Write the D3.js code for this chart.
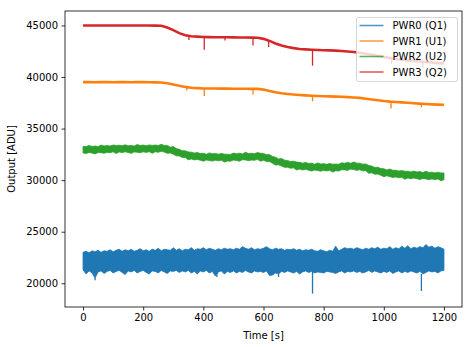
<!DOCTYPE html>
<html>
<head>
<meta charset="utf-8">
<script src="https://cdn.jsdelivr.net/npm/d3@7/dist/d3.min.js"></script>
<style>
  body { margin: 0; background: #fff; }
  text { font-family: "DejaVu Sans", sans-serif; font-size: 10px; fill: #000; }
  .axis path, .axis line { stroke: #000; stroke-width: 0.8; }
</style>
</head>
<body>
<div id="chart"></div>
<script>
const seriesNames = ['PWR0 (Q1)', 'PWR1 (U1)', 'PWR2 (U2)', 'PWR3 (Q2)']
const xTicks = [0, 200, 400, 600, 800, 1000, 1200]
const yTicks = [20000, 25000, 30000, 35000, 40000, 45000]

// sampling grids (seconds)
const time20 = d3.range(0, 1201, 20)
const time10 = d3.range(0, 1201, 10)

// PWR3 (Q2), centre of the trace, every 20 s
const pwr3 = [45000,44990,45000,44990,45000,44990,45000,44990,44990,45000,44990,44990,44980,44970,
  44800,44550,44250,44050,43950,43920,43880,43870,43860,43850,43850,43840,43830,43830,43820,43800,
  43700,43500,43250,43050,42900,42800,42720,42680,42650,42620,42600,42580,42560,42520,42480,42420,
  42350,42250,42150,42050,41950,41850,41750,41680,41600,41550,41500,41450,41400,41350,41320]

// PWR1 (U1), centre of the trace, every 20 s
const pwr1 = [39500,39500,39490,39500,39500,39490,39500,39500,39490,39500,39500,39490,39480,39470,
  39400,39280,39150,39040,38960,38920,38890,38880,38880,38870,38870,38860,38860,38860,38850,38850,
  38780,38640,38520,38430,38360,38300,38260,38220,38190,38160,38140,38120,38100,38080,38050,38020,
  37980,37900,37820,37740,37670,37610,37570,37540,37500,37460,37420,37380,37350,37320,37300]

// PWR2 (U2), upper / lower edge of the noise band, every 10 s
const pwr2Hi = [33280,33250,33360,33270,33310,33240,33400,33310,33350,33310,
  33400,33360,33390,33330,33420,33330,33370,33300,33450,33360,
  33400,33340,33410,33370,33400,33360,33470,33370,33370,33200,
  33250,33060,32990,32850,32840,32740,32710,32620,32680,32580,
  32610,32510,32640,32550,32590,32520,32590,32520,32510,32490,
  32620,32550,32610,32540,32700,32590,32600,32570,32670,32610,
  32580,32460,32480,32290,32230,32050,32100,31940,31900,31800,
  31840,31750,31730,31650,31720,31620,31650,31540,31670,31570,
  31600,31540,31610,31550,31560,31540,31680,31640,31720,31630,
  31760,31650,31650,31550,31570,31430,31360,31230,31260,31120,
  31110,30980,31080,30960,30960,30880,30930,30860,30860,30790,
  30880,30790,30830,30730,30860,30750,30770,30700,30770,30700,30700]
const pwr2Lo = [32630,32590,32690,32620,32540,32680,32660,32610,32700,32660,
  32750,32590,32740,32670,32750,32680,32600,32740,32710,32660,
  32750,32690,32760,32600,32750,32700,32800,32720,32600,32640,
  32510,32360,32340,32200,32190,31970,32060,31960,32010,31930,
  31840,31950,31900,31850,31940,31870,31940,31750,31860,31830,
  31950,31900,31840,31980,31960,31890,31950,31920,32020,31840,
  31930,31800,31810,31640,31460,31490,31360,31240,31250,31150,
  31190,30980,31080,30990,31050,30970,30880,30980,30930,30870,
  30950,30890,30960,30780,30910,30880,31010,30990,30950,31070,
  31020,30950,31000,30900,30920,30660,30710,30570,30590,30470,
  30340,30420,30340,30260,30310,30230,30280,30090,30210,30130,
  30210,30140,30060,30170,30120,30050,30120,30050,30120,29930,30050]

// PWR0 (Q1), upper / lower edge of the noise band, every 10 s
const pwr0Hi = [23000,23100,22950,23150,23050,23200,23000,23150,23100,23250,
  23050,23200,23300,23100,23250,23150,23300,23100,23200,23350,
  23150,23250,23100,23300,23200,23400,23150,23300,23250,23200,
  23450,23200,23350,23150,23300,23250,23450,23200,23350,23300,
  23450,23250,23400,23300,23200,23350,23250,23400,23300,23350,
  23250,23400,23300,23550,23400,23300,23450,23250,23350,23300,
  23400,23550,23350,23250,23400,23300,23350,23200,23300,23250,
  23350,23200,23300,23150,23250,23200,23300,23150,23100,23250,
  23150,23050,23200,23100,23600,23150,23300,23450,23350,23400,
  23300,23450,23350,23250,23400,23300,23450,23350,23500,23300,
  23400,23350,23550,23300,23450,23350,23600,23400,23650,23350,
  23500,23400,23550,23450,23750,23500,23600,23400,23550,23450,23300]
const pwr0Lo = [21300,20900,21200,21000,20500,21100,21200,20950,21150,21250,
  21000,21150,21250,21050,20850,21200,21100,21250,21000,21150,
  21250,21050,20900,21200,21150,21000,21250,21100,20950,21200,
  21150,21250,21050,21200,21100,21250,21000,21150,20900,21200,
  21100,21250,21000,21150,20700,21100,21200,20900,21150,21050,
  21200,21000,21150,21050,21250,21100,21000,21200,21100,21150,
  21050,21200,20750,20800,21000,20900,21150,21050,21200,21100,
  21000,21150,20900,21100,21200,21050,21150,21000,21100,21050,
  21000,21150,21100,21050,20950,21100,21200,21000,21150,21100,
  21200,21050,21150,21000,21100,21250,21050,21200,21100,21000,
  21150,21050,21200,20950,21100,21200,21000,21150,21050,21200,
  21100,21000,21150,20900,21050,21200,21100,21150,21000,21200,21250]

// downward glitches: [time, lowest value]
const pwr0Spikes = [[40, 20300], [445, 20600], [650, 20600], [763, 19000], [1125, 19250]]
const pwr1Spikes = [[345, 38700], [403, 38150], [565, 38300], [763, 37650], [1024, 36950], [1125, 37050]]
const pwr3Spikes = [[352, 43600], [403, 42650], [472, 43550], [565, 43050], [617, 42900], [763, 41100], [1026, 41300], [1130, 40900]]

const colours = ['#1f77b4', '#ff7f0e', '#2ca02c', '#d62728']

let width = 473
let height = 347
const margin = { top: 11, right: 11, bottom: 40, left: 65 }

let svg = d3.select('#chart').append('svg')
  .attr('width', width)
  .attr('height', height)

let x = d3.scaleLinear()
  .domain([-60, 1260])
  .range([margin.left, width - margin.right])

let y = d3.scaleLinear()
  .domain([17700, 46400])
  .range([height - margin.bottom, margin.top])

let plot = svg.append('g')

const band = (lo, hi) => d3.area()
  .x((d, i) => x(d))
  .y0((d, i) => y(lo[i]))
  .y1((d, i) => y(hi[i]))

const centre = vals => d3.line()
  .x((d, i) => x(d))
  .y((d, i) => y(vals[i]))

const drawSpikes = (spikes, grid, vals, colour) => {
  plot.selectAll(null)
    .data(spikes)
    .enter()
    .append('line')
    .attr('x1', d => x(d[0]))
    .attr('x2', d => x(d[0]))
    .attr('y1', d => y(vals[Math.round(d[0] / (grid[1] - grid[0]))]))
    .attr('y2', d => y(d[1]))
    .style('stroke', colour)
    .style('stroke-width', 1.3)
}

// PWR0
plot.append('path')
  .attr('d', band(pwr0Lo, pwr0Hi)(time10))
  .style('fill', colours[0])
  .style('stroke', colours[0])
  .style('stroke-width', 1)
  .style('stroke-opacity', 0.8)
drawSpikes(pwr0Spikes, time10, pwr0Lo, colours[0])

// PWR1
plot.append('path')
  .attr('d', centre(pwr1)(time20))
  .style('fill', 'none')
  .style('stroke', colours[1])
  .style('stroke-width', 2.6)
drawSpikes(pwr1Spikes, time20, pwr1, colours[1])

// PWR2
plot.append('path')
  .attr('d', band(pwr2Lo, pwr2Hi)(time10))
  .style('fill', colours[2])
  .style('stroke', colours[2])
  .style('stroke-width', 1)
  .style('stroke-opacity', 0.8)

// PWR3
plot.append('path')
  .attr('d', centre(pwr3)(time20))
  .style('fill', 'none')
  .style('stroke', colours[3])
  .style('stroke-width', 2.6)
drawSpikes(pwr3Spikes, time20, pwr3, colours[3])

// frame
svg.append('rect')
  .attr('x', margin.left)
  .attr('y', margin.top)
  .attr('width', width - margin.left - margin.right)
  .attr('height', height - margin.top - margin.bottom)
  .style('fill', 'none')
  .style('stroke', '#000')
  .style('stroke-width', 0.8)

let xAxis = d3.axisBottom(x)
  .tickValues(xTicks)
  .tickSize(3.5)
  .tickPadding(3.5)
  .tickFormat(d3.format('d'))

let yAxis = d3.axisLeft(y)
  .tickValues(yTicks)
  .tickSize(3.5)
  .tickPadding(3.5)
  .tickFormat(d3.format('d'))

svg.append('g')
  .attr('class', 'axis')
  .attr('transform', `translate(0, ${height - margin.bottom})`)
  .call(xAxis)
  .call(g => g.select('.domain').remove())
  .selectAll('text').style('font-family', null).style('font-size', null)

svg.append('g')
  .attr('class', 'axis')
  .attr('transform', `translate(${margin.left}, 0)`)
  .call(yAxis)
  .call(g => g.select('.domain').remove())
  .selectAll('text').style('font-family', null).style('font-size', null)

svg.selectAll('.axis text').attr('fill', null)

svg.append('text')
  .attr('x', (margin.left + width - margin.right) / 2)
  .attr('y', 339)
  .style('text-anchor', 'middle')
  .text('Time [s]')

svg.append('text')
  .attr('transform', `translate(15, ${(margin.top + height - margin.bottom) / 2}) rotate(-90)`)
  .style('text-anchor', 'middle')
  .text('Output [ADU]')

// legend
let legend = svg.append('g')
  .attr('transform', 'translate(356.5, 17.5)')

legend.append('rect')
  .attr('width', 101)
  .attr('height', 64)
  .attr('rx', 2)
  .style('fill', '#fff')
  .style('fill-opacity', 0.8)
  .style('stroke', '#cccccc')
  .style('stroke-width', 0.8)

let rows = legend.selectAll('g.row')
  .data(seriesNames)
  .enter()
  .append('g')
  .attr('class', 'row')
  .attr('transform', (d, i) => `translate(0, ${8 + i * 15.5})`)

rows.append('line')
  .attr('x1', 3)
  .attr('x2', 27)
  .style('stroke', (d, i) => colours[i])
  .style('stroke-opacity', 0.8)
  .style('stroke-width', 1.5)

rows.append('text')
  .attr('x', 36)
  .attr('y', 3.6)
  .text(d => d)
</script>
</body>
</html>
